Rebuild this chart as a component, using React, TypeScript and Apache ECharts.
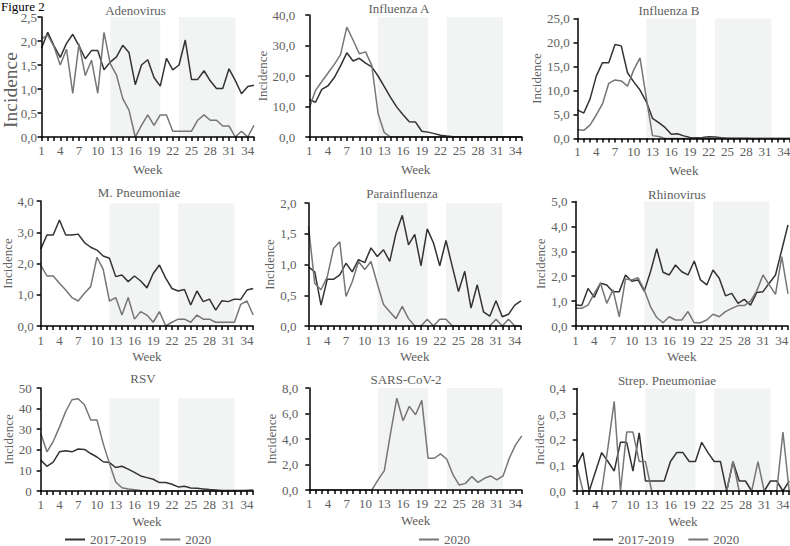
import React, { useEffect, useRef } from 'react';
import * as echarts from 'echarts';

// ---------- DATA ----------
const weeks = ['1','2','3','4','5','6','7','8','9','10','11','12','13','14','15','16','17','18','19','20','21','22','23','24','25','26','27','28','29','30','31','32','33','34','35'];

const panelTitles = ['Adenovirus', 'Influenza A', 'Influenza B', 'M. Pneumoniae', 'Parainfluenza', 'Rhinovirus', 'RSV', 'SARS-CoV-2', 'Strep. Pneumoniae'];
const yMax = [2.5, 40, 25, 4, 2, 5, 50, 8, 0.4];
const yStep = [0.5, 10, 5, 1, 0.5, 1, 10, 2, 0.1];
const yDecimals = [1, 1, 1, 1, 1, 1, 0, 1, 1];
const bandTop = [2.5, 39.3, 25, 3.93, 2, 5, 45, 8, 0.4];
const bandWeeks = [['12', '20'], ['23', '32']];

const adeno17 = [1.85, 2.18, 1.9, 1.66, 1.95, 2.14, 1.9, 1.63, 1.8, 1.8, 1.4, 1.56, 1.67, 1.91, 1.76, 1.09, 1.5, 1.61, 1.24, 1.06, 1.64, 1.4, 1.5, 2.02, 1.2, 1.2, 1.38, 1.17, 1.01, 1.01, 1.42, 1.18, 0.9, 1.05, 1.08];
const adeno20 = [2.05, 2.12, 1.88, 1.5, 1.83, 0.91, 1.94, 1.28, 1.6, 0.91, 2.18, 1.53, 1.29, 0.8, 0.56, 0, 0.24, 0.46, 0.24, 0.46, 0.46, 0.12, 0.12, 0.12, 0.12, 0.35, 0.46, 0.35, 0.35, 0.23, 0.23, 0, 0.12, 0, 0.24];

const fluA17 = [12.3, 11.4, 15.6, 16.8, 19.5, 23.3, 27.6, 24.9, 25.8, 24.2, 23.0, 20.0, 16.5, 13.0, 9.8, 7.3, 5.0, 4.9, 1.9, 1.6, 1.1, 0.6, 0.3, 0.1, 0.05, 0, 0, 0, 0, 0, 0, 0, 0, 0, 0];
const fluA20 = [9.5, 15.3, 18.2, 21, 23.8, 27, 36, 31.8, 27.3, 27.9, 23.5, 7.7, 1.4, 0, 0, 0, 0, 0, 0, 0, 0, 0, 0, 0, 0, 0, 0, 0, 0, 0, 0, 0, 0, 0, 0];

const fluB17 = [5.96, 5.3, 8.2, 13, 15.8, 15.8, 19.6, 19.3, 13.7, 11.8, 10.1, 7.7, 4.2, 3.3, 2.3, 0.9, 1.0, 0.55, 0.2, 0.15, 0.2, 0.35, 0.3, 0.15, 0.05, 0.05, 0.05, 0.05, 0, 0, 0, 0, 0, 0, 0];
const fluB20 = [1.8, 1.7, 2.8, 4.9, 7.2, 11.5, 12.2, 12.0, 10.9, 14.3, 16.8, 8.5, 0.6, 0.4, 0, 0, 0, 0, 0, 0, 0, 0, 0, 0, 0, 0, 0, 0, 0, 0, 0, 0, 0, 0, 0];

const mpn17 = [2.46, 2.91, 2.91, 3.39, 2.91, 2.91, 2.94, 2.67, 2.52, 2.43, 2.24, 2.17, 1.58, 1.63, 1.42, 1.6, 1.44, 1.22, 1.68, 1.95, 1.53, 1.2, 1.12, 1.17, 0.67, 1.12, 0.78, 0.86, 0.51, 0.81, 0.78, 0.86, 0.85, 1.15, 1.2];
const mpn20 = [1.95, 1.6, 1.6, 1.37, 1.15, 0.91, 0.8, 1.05, 1.26, 2.2, 1.81, 0.8, 0.91, 0.35, 0.91, 0.22, 0.46, 0.35, 0.12, 0.46, 0, 0.12, 0.22, 0.22, 0.12, 0.35, 0.22, 0.22, 0.12, 0.12, 0.12, 0.12, 0.69, 0.8, 0.35];

const para17 = [0.96, 0.88, 0.34, 0.76, 0.76, 0.83, 1.02, 0.88, 1.08, 1.03, 1.27, 1.13, 1.24, 1.05, 1.51, 1.8, 1.32, 1.49, 0.98, 1.58, 1.35, 0.98, 1.39, 0.97, 0.56, 0.89, 0.29, 0.67, 0.23, 0.16, 0.41, 0.15, 0.19, 0.34, 0.41];
const para20 = [1.62, 0.69, 0.59, 0.8, 1.26, 1.37, 0.48, 0.72, 1.05, 0.92, 1.05, 0.69, 0.35, 0.23, 0.12, 0.32, 0.12, 0, 0, 0.11, 0, 0.11, 0.11, 0, 0, 0, 0, 0, 0, 0, 0.11, 0, 0.11, 0, 0];

const rhino17 = [0.84, 0.82, 1.51, 1.15, 1.72, 1.65, 1.38, 1.38, 2.05, 1.8, 1.85, 1.4, 2.18, 3.1, 2.16, 2.05, 2.45, 2.18, 2.05, 2.61, 1.85, 1.65, 2.25, 1.92, 1.21, 1.31, 0.91, 1.07, 0.84, 1.35, 1.38, 1.72, 2.05, 3.05, 4.06];
const rhino20 = [0.71, 0.71, 0.84, 1.31, 1.72, 0.91, 1.45, 0.37, 1.89, 1.85, 1.94, 1.45, 0.78, 0.34, 0.13, 0.37, 0.24, 0.24, 0.58, 0.13, 0.13, 0.24, 0.47, 0.37, 0.58, 0.71, 0.82, 0.82, 1.0, 1.41, 2.05, 1.65, 1.27, 2.79, 1.29];

const rsv17 = [15, 12, 14, 19, 19.5, 19, 20.4, 20.2, 18.2, 16.5, 14.2, 13.8, 11.4, 12, 10.6, 9, 7.3, 6.5, 5.7, 4.1, 4.1, 3.3, 2.0, 2.3, 1.5, 1.3, 1.0, 0.7, 0.5, 0.3, 0.2, 0.2, 0.2, 0.3, 0.5];
const rsv20 = [28, 19, 24, 31, 38.6, 44.3, 44.8, 41.9, 34.5, 34.5, 23, 13.4, 4.4, 1.6, 1.0, 0.6, 0.2, 0, 0, 0, 0, 0, 0, 0, 0, 0, 0, 0, 0, 0, 0, 0, 0.1, 0.2, 0.3];

const sars20 = [0, 0, 0, 0, 0, 0, 0, 0, 0, 0, 0, 0.79, 1.52, 4.46, 7.2, 5.43, 6.56, 5.9, 7.03, 2.49, 2.49, 2.83, 2.41, 1.18, 0.39, 0.52, 1.05, 0.6, 0.92, 1.1, 0.79, 1.1, 2.49, 3.54, 4.25];

const strep17 = [0.1, 0.15, 0, 0.075, 0.15, 0.115, 0.078, 0.19, 0.19, 0.078, 0.227, 0.039, 0.039, 0.039, 0.039, 0.115, 0.15, 0.15, 0.115, 0.115, 0.19, 0.15, 0.115, 0.115, 0, 0.115, 0.039, 0.039, 0, 0, 0, 0.039, 0.039, 0, 0.039];
const strep20 = [0.1, 0, 0, 0, 0, 0.17, 0.35, 0, 0.23, 0.23, 0.115, 0.115, 0, 0, 0, 0, 0, 0, 0, 0, 0, 0, 0, 0, 0, 0.115, 0, 0, 0, 0.115, 0, 0, 0, 0.23, 0];

const series1719 = [adeno17, fluA17, fluB17, mpn17, para17, rhino17, rsv17, null, strep17];
const series2020 = [adeno20, fluA20, fluB20, mpn20, para20, rhino20, rsv20, sars20, strep20];

const legendNames = ['2017-2019', '2020'];

// ---------- LAYOUT / STYLE ----------
const FONT = 'Liberation Serif, Times New Roman, serif';
const TXT = '#606060';
const DARK = '#333333';
const LIGHT = '#767676';
const BAND = '#f1f4f2';

const layout = [
  { left: 41.5, top: 17, height: 120, yMargin: 4.5, nameGap: 22, tx: 135.5, ty: 10, xMargin: 6.5, weekGap: 25.5 },
  { left: 309.3, top: 15, height: 122, yMargin: 14, nameGap: 34.5, tx: 399, ty: 8, xMargin: 6.5, weekGap: 25.5 },
  { left: 577.5, top: 18.5, height: 120, yMargin: 7.7, nameGap: 32, tx: 669, ty: 10, xMargin: 6.5, weekGap: 25.5 },
  { left: 40.7, top: 201, height: 125, yMargin: 7, nameGap: 24, tx: 139, ty: 192, xMargin: 8, weekGap: 23.5 },
  { left: 308.5, top: 203, height: 123, yMargin: 12, nameGap: 28, tx: 402, ty: 193, xMargin: 8, weekGap: 23.5 },
  { left: 575.5, top: 201.5, height: 124.5, yMargin: 8, nameGap: 26.5, tx: 677, ty: 194, xMargin: 8, weekGap: 23.5 },
  { left: 40.7, top: 388, height: 103, yMargin: 9, nameGap: 24.5, tx: 143, ty: 378, xMargin: 7, weekGap: 23.5 },
  { left: 309.3, top: 388, height: 102, yMargin: 11, nameGap: 26, tx: 406, ty: 379, xMargin: 7, weekGap: 24 },
  { left: 576.7, top: 388.5, height: 102.5, yMargin: 11, nameGap: 28, tx: 667, ty: 380, xMargin: 7, weekGap: 23.5 },
];
const PLOT_W = 212.5;

function fmt(v: number, d: number) {
  return v.toFixed(d).replace('.', ',');
}

function buildOption() {
  const grid: any[] = [];
  const xAxis: any[] = [];
  const yAxis: any[] = [];
  const series: any[] = [];
  const graphic: any[] = [];

  panelTitles.forEach((title, i) => {
    const L = layout[i];
    grid.push({ left: L.left, top: L.top, width: PLOT_W, height: L.height, containLabel: false, outerBoundsMode: 'none' });
    xAxis.push({
      type: 'category', gridIndex: i, data: weeks, boundaryGap: false, z: 5,
      axisLine: { show: true, lineStyle: { color: '#000', width: 1.5 } },
      axisTick: { show: true, interval: 0, length: 4, lineStyle: { color: '#000', width: 1.5 } },
      axisLabel: { interval: 2, color: TXT, fontFamily: FONT, fontSize: 13, margin: L.xMargin },
      splitLine: { show: false },
      name: 'Week', nameLocation: 'middle', nameGap: L.weekGap,
      nameTextStyle: { color: TXT, fontFamily: FONT, fontSize: 13 },
    });
    const dec = yDecimals[i];
    yAxis.push({
      type: 'value', gridIndex: i, min: 0, max: yMax[i], interval: yStep[i], z: 5,
      splitLine: { show: false },
      axisLine: { show: true, lineStyle: { color: '#000', width: 1.5 } },
      axisTick: { show: true, length: 4, lineStyle: { color: '#000', width: 1.5 } },
      axisLabel: { color: TXT, fontFamily: FONT, fontSize: 13, margin: L.yMargin, formatter: (v: number) => fmt(v, dec) },
      name: i === 0 ? '' : 'Incidence', nameLocation: 'middle', nameGap: L.nameGap,
      nameTextStyle: { color: TXT, fontFamily: FONT, fontSize: 13 },
    });
    series.push({
      name: 'band', type: 'line', xAxisIndex: i, yAxisIndex: i, data: [], silent: true,
      markArea: {
        silent: true, z: 1,
        itemStyle: { color: BAND },
        data: bandWeeks.map((b) => [{ xAxis: b[0], yAxis: 0 }, { xAxis: b[1], yAxis: bandTop[i] }]),
      },
    });
    if (series1719[i]) {
      series.push({
        name: legendNames[0], type: 'line', xAxisIndex: i, yAxisIndex: i, data: series1719[i],
        symbol: 'none', showSymbol: false, color: DARK, z: 3,
        lineStyle: { color: DARK, width: 1.5 }, itemStyle: { color: DARK },
      });
    }
    series.push({
      name: legendNames[1], type: 'line', xAxisIndex: i, yAxisIndex: i, data: series2020[i],
      symbol: 'none', showSymbol: false, color: LIGHT, z: 3,
      lineStyle: { color: LIGHT, width: 1.5 }, itemStyle: { color: LIGHT },
    });
    graphic.push({
      type: 'text', x: L.tx, y: L.ty, silent: true,
      style: { text: title, fill: TXT, fontFamily: FONT, fontSize: 13, align: 'center', verticalAlign: 'middle' },
    });
  });

  graphic.push({
    type: 'text', x: 10, y: 90, rotation: Math.PI / 2, silent: true,
    style: { text: 'Incidence', fill: TXT, fontFamily: FONT, fontSize: 19.5, align: 'center', verticalAlign: 'middle' },
  });
  graphic.push({
    type: 'text', x: 1, y: 6.5, silent: true,
    style: { text: 'Figure 2', fill: '#000', fontFamily: FONT, fontSize: 13, align: 'left', verticalAlign: 'middle' },
  });

  const legendBase = {
    orient: 'horizontal', top: 533, padding: 0, itemWidth: 20, itemHeight: 2, itemGap: 14,
    icon: 'rect', selectedMode: false,
    textStyle: { color: TXT, fontFamily: FONT, fontSize: 13 },
  };
  const legend = [
    { ...legendBase, left: 65, data: legendNames },
    { ...legendBase, left: 419, data: [legendNames[1]] },
    { ...legendBase, left: 593, data: legendNames },
  ];

  return {
    animation: false,
    backgroundColor: '#ffffff',
    grid, xAxis, yAxis, series, legend, graphic,
  };
}

export default function App() {
  const ref = useRef<HTMLDivElement>(null);
  useEffect(() => {
    if (!ref.current) return;
    const chart = echarts.init(ref.current, null, { renderer: 'svg' });
    chart.setOption(buildOption() as any);
    return () => chart.dispose();
  }, []);
  return <div ref={ref} style={{ position: 'absolute', left: 0, top: 0, width: 790, height: 546 }} />;
}
